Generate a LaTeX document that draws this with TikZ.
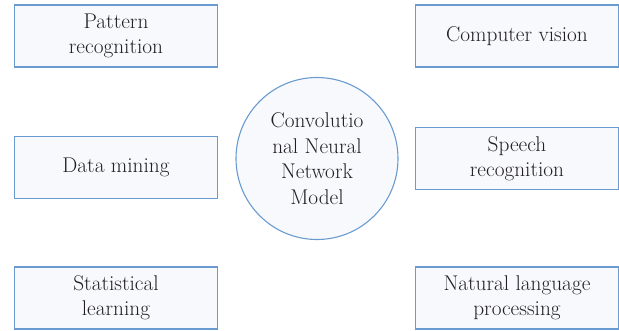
\documentclass[tikz,border=0pt]{standalone}
\usepackage{fontspec}
\usetikzlibrary{positioning}
\definecolor{boxline}{HTML}{6A9BD0}
\definecolor{boxfill}{HTML}{F7F9FC}
\definecolor{labeltext}{HTML}{231F20}
\begin{document}
\begin{tikzpicture}[x=1pt,y=-1pt]
		\tikzstyle{rect} = [rectangle, minimum width=203pt, minimum height=62pt, inner sep=0pt, align=center, text centered, draw=boxline, fill=boxfill, text=labeltext, line width=1.3pt, font=\fontsize{21.3}{25}\selectfont]
		\tikzstyle{model} = [circle, minimum size=162pt, inner sep=0pt, align=center, draw=boxline, fill=boxfill, text=labeltext, line width=1.1pt, font=\fontsize{21.3}{25.5}\selectfont]
		\useasboundingbox (0,0) rectangle (619,330);
		% left column
		\node (pattern) [rect] at (116,36) {Pattern\\recognition};
		\node (mining) [rect] at (116,167.5) {Data mining};
		\node (statistical) [rect] at (116,298) {Statistical\\learning};
		% centre
		\node (cnn) [model] at (317,158.5) {Convolutio\\nal Neural\\Network\\Model};
		% right column
		\node (vision) [rect] at (517,36) {Computer vision};
		\node (speech) [rect] at (517,158.5) {Speech\\recognition};
		\node (language) [rect] at (517,298) {Natural language\\processing};
	\end{tikzpicture}
\end{document}
